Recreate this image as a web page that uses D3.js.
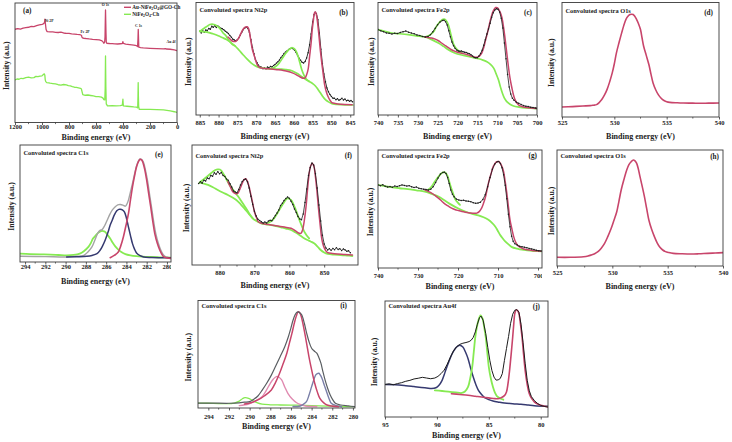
<!DOCTYPE html>
<html><head><meta charset="utf-8">
<script src="https://cdn.jsdelivr.net/npm/d3@7"></script>
<style>
html,body{margin:0;padding:0;background:#fff;}
svg{display:block;}
text{font-family:"Liberation Serif","Times New Roman",serif;font-weight:bold;fill:#222;}
</style></head><body>
<svg id="c" width="732" height="442"></svg>
<script>
// ---------------- DATA ----------------
// (a) survey spectra: [binding energy eV, intensity %]
const aTicks = [1200,1000,800,600,400,200,0];
const aRed = [[1200,78.0],[1180,78.6],[1160,78.2],[1140,79.0],[1120,79.4],[1100,79.7],[1080,80.4],[1060,80.2],[1040,81.0],[1020,81.6],[1000,82.2],[990,82.6],[984,83.2],[980,84.6],[978,86.4],[976,84.0],[973,81.0],[970,78.0],[965,76.6],[960,76.0],[940,75.8],[920,75.9],[900,75.5],[880,75.3],[860,75.6],[840,74.9],[825,74.7],[800,74.6],[780,74.2],[760,74.0],[740,73.7],[720,73.5],[708,73.0],[704,71.5],[700,70.8],[690,70.5],[670,70.2],[650,69.9],[625,69.6],[600,69.4],[575,69.1],[560,68.6],[550,67.8],[542,66.3],[536,67.2],[533,72.0],[531,85.8],[529.5,94.2],[528,86.0],[526,75.0],[524,67.4],[520,66.3],[500,66.1],[480,66.0],[460,65.8],[440,65.7],[420,65.9],[405,66.0],[401,67.6],[397,66.2],[380,65.6],[350,65.2],[320,64.7],[300,64.3],[292,63.6],[289,70.0],[287,78.0],[285,70.5],[283,63.0],[270,62.7],[250,62.4],[200,62.1],[150,61.8],[100,61.6],[86,61.9],[80,61.5],[50,61.3],[20,60.8],[0,60.2]];
const aGreen = [[1200,35.7],[1185,36.4],[1170,36.2],[1155,37.0],[1140,36.8],[1120,37.6],[1100,37.9],[1080,37.4],[1060,37.6],[1045,38.6],[1030,38.4],[1015,38.8],[1000,39.0],[990,40.1],[983,40.7],[979,39.6],[976,35.7],[972,34.2],[965,33.4],[950,33.2],[940,32.9],[920,32.6],[900,32.3],[880,31.6],[860,31.2],[840,31.8],[820,31.5],[805,30.8],[790,30.6],[775,30.0],[760,29.5],[745,29.4],[730,29.0],[715,28.6],[708,28.0],[703,25.6],[698,23.4],[680,22.8],[660,23.0],[640,22.6],[620,22.2],[600,21.7],[580,21.6],[560,21.2],[548,20.4],[542,19.2],[535,18.9],[532,28.0],[530.5,45.0],[529.5,55.7],[528.5,45.0],[527,30.1],[524,15.6],[515,13.9],[480,14.0],[450,13.9],[420,14.1],[405,14.5],[402,18.0],[400.5,19.5],[399,16.0],[397,13.9],[370,13.6],[350,13.4],[320,13.0],[300,12.8],[291,12.3],[289,22.0],[287.5,33.4],[286,22.0],[284,13.4],[280,11.1],[250,11.0],[200,10.9],[150,10.8],[100,10.6],[50,9.7],[20,9.0],[0,8.4]];
const aPeakLabels = [["Ni 2P",948,85.5],["Fe 2P",681,76],["O 1s",530,99],["C 1s",285,81],["Au 4f",44,67.5]];

// (b) Ni2p
const bTicks = [885,880,875,870,865,860,855,850,845];
const bBlack = [[885.0,74.4],[884.6,73.0],[884.2,74.8],[883.8,73.6],[883.4,75.6],[883.0,75.0],[882.6,77.0],[882.2,76.2],[881.8,78.8],[881.4,78.0],[881.0,79.4],[880.6,77.8],[880.2,79.2],[879.8,78.0],[879.4,77.2],[879.0,76.6],[878.6,75.8],[878.2,74.4],[877.8,73.6],[877.4,72.4],[877.0,70.6],[876.6,69.2],[876.2,67.4],[875.8,66.6],[875.4,66.0],[875.0,67.0],[874.6,68.6],[874.2,71.2],[873.8,73.8],[873.4,76.0],[873.0,77.4],[872.6,78.2],[872.2,77.0],[871.8,73.4],[871.4,66.8],[871.0,60.0],[870.6,54.4],[870.2,49.4],[869.8,46.6],[869.4,44.2],[869.0,43.0],[868.6,42.4],[868.2,41.2],[867.8,42.0],[867.4,41.0],[867.0,42.6],[866.6,42.0],[866.2,43.2],[865.8,42.6],[865.4,44.0],[865.0,44.8],[864.6,46.2],[864.2,47.4],[863.8,49.0],[863.4,51.2],[863.0,52.6],[862.6,54.6],[862.2,56.0],[861.8,57.0],[861.4,58.2],[861.0,59.0],[860.6,59.6],[860.2,59.0],[859.8,57.6],[859.4,55.6],[859.0,53.0],[858.6,50.4],[858.2,48.6],[857.8,46.8],[857.4,46.2],[857.0,47.6],[856.6,50.6],[856.2,55.4],[855.8,62.4],[855.4,72.0],[855.0,82.6],[854.6,89.4],[854.3,91.4],[854.0,90.2],[853.6,84.6],[853.2,73.0],[852.8,58.4],[852.4,45.6],[852.0,36.4],[851.6,29.6],[851.2,24.0],[850.8,20.6],[850.4,18.2],[850.0,16.4],[849.6,15.0],[849.2,14.8],[848.8,13.6],[848.4,14.4],[848.0,13.2],[847.6,13.8],[847.2,14.8],[846.8,13.4],[846.4,14.2],[846.0,12.6],[845.6,13.2],[845.2,12.2],[844.8,12.8],[844.4,11.8]];
const bRed = [[877.5,69.3],[876.8,67.0],[876.2,65.5],[875.5,65.4],[874.8,67.6],[874.3,70.8],[873.8,74.4],[873.3,77.0],[872.8,78.3],[872.4,78.4],[872.0,76.6],[871.5,67.6],[871.0,58.0],[870.6,53.6],[870.1,48.0],[869.7,44.6],[869.2,42.6],[868.6,41.7],[867.5,41.3],[866.9,41.1],[865.5,40.6],[864.2,40.2],[862.8,39.6],[861.5,38.7],[860.4,37.4],[859.3,35.7],[858.4,34.0],[857.6,32.7],[857.0,33.0],[856.6,35.7],[856.2,40.5],[855.8,52.1],[855.4,64.0],[855.1,75.9],[854.8,84.0],[854.5,90.8],[854.25,91.5],[854.0,89.3],[853.7,82.5],[853.3,69.9],[852.9,56.0],[852.5,44.6],[852.1,34.0],[851.8,26.8],[851.3,20.0],[850.9,16.4],[850.4,13.2],[849.9,11.0],[849.0,10.2],[848.3,9.8],[846.5,9.4],[844.5,9.2]];
const bGreenBg = [[885.0,74.4],[883.9,74.0],[882.8,73.5],[881.5,72.2],[880.1,70.5],[879.0,68.8],[877.9,67.0],[876.8,64.6],[875.7,61.6],[874.6,57.8],[873.5,53.6],[872.4,49.6],[871.3,46.1],[870.4,44.0],[869.5,42.6],[868.2,41.6],[866.9,41.1],[865.0,40.9],[863.3,40.8],[862.0,40.3],[860.7,39.6],[859.6,37.8],[858.5,35.7],[857.6,33.4],[856.7,31.3],[855.8,29.6],[854.9,27.7],[854.2,25.6],[853.6,22.9],[852.9,19.6],[852.3,16.4],[851.6,13.6],[850.9,11.9],[850.2,10.6],[849.6,9.8],[848.5,9.4],[847.4,9.2],[845.8,9.0],[844.3,8.9]];
const bGreenSat1 = [[885.0,74.4],[884.4,75.8],[883.7,77.4],[883.0,79.0],[882.3,80.4],[881.7,80.8],[881.2,80.4],[880.6,79.6],[880.1,78.3],[879.4,75.8],[878.8,72.9],[878.1,70.6],[877.5,67.4],[876.8,64.4],[876.2,62.4],[875.7,61.6]];
const bGreenSat2 = [[866.5,41.2],[865.5,41.8],[864.6,43.6],[863.8,46.6],[863.0,50.6],[862.2,54.6],[861.5,57.4],[860.9,59.2],[860.4,59.8],[859.9,59.0],[859.4,56.8],[858.9,52.6],[858.4,46.6],[857.9,40.4],[857.3,35.4],[856.7,32.0],[856.0,30.0]];

// (c) Fe2p
const cTicks = [740,735,730,725,720,715,710,705,700];
const cBlack = [[740,75.9],[739.3,74.8],[738.6,74.0],[737.9,73.0],[737.2,72.6],[736.5,72.0],[735.8,72.6],[735.1,72.4],[734.4,73.4],[733.7,74.0],[733.0,74.6],[732.3,73.6],[731.6,72.8],[730.9,72.2],[730.2,71.2],[729.5,70.6],[728.8,69.8],[728.1,69.4],[727.4,69.8],[726.8,71.4],[726.2,74.0],[725.6,77.2],[725.0,80.2],[724.4,82.6],[723.8,84.0],[723.4,84.2],[723.0,83.0],[722.6,80.0],[722.2,75.0],[721.8,69.6],[721.4,64.8],[721.0,61.6],[720.6,59.2],[720.2,57.8],[719.8,57.0],[719.4,56.6],[719.0,56.8],[718.6,56.2],[718.2,55.8],[717.8,55.6],[717.4,54.8],[717.0,54.4],[716.6,53.6],[716.2,52.4],[715.8,51.2],[715.4,50.8],[715.0,51.0],[714.6,52.4],[714.2,54.6],[713.8,57.6],[713.4,62.0],[713.0,67.0],[712.6,72.0],[712.2,76.4],[711.8,81.6],[711.4,87.0],[711.0,91.0],[710.6,93.4],[710.2,94.4],[709.8,94.0],[709.4,91.6],[709.0,86.0],[708.6,77.4],[708.2,64.0],[707.8,50.0],[707.4,36.0],[707.0,25.0],[706.6,18.6],[706.2,15.0],[705.8,13.2],[705.2,11.4],[704.6,10.4],[704.0,9.4],[703.4,8.4],[702.8,7.8],[702.2,7.6],[701.6,7.0],[701.0,6.6],[700.4,6.2],[700.0,6.0]];
const cRed = [[728.2,69.3],[727.4,68.8],[726.5,68.4],[725.6,67.4],[724.8,66.0],[724.0,64.0],[723.2,62.0],[722.3,59.8],[721.5,58.0],[720.6,56.6],[719.8,55.6],[718.9,54.8],[718.1,54.2],[717.2,53.2],[716.4,52.2],[715.8,51.6],[715.2,51.4],[714.6,52.2],[713.9,55.1],[713.4,60.0],[712.9,67.0],[712.4,74.0],[712.0,80.4],[711.6,86.0],[711.2,90.8],[710.8,93.8],[710.4,95.5],[710.0,95.4],[709.7,94.3],[709.2,90.8],[708.8,86.3],[708.4,77.6],[708.0,67.0],[707.6,55.0],[707.2,43.2],[706.8,33.0],[706.3,23.8],[705.9,17.6],[705.5,13.4],[705.0,10.4],[704.5,8.6],[703.8,7.6],[703.0,6.8],[701.5,6.2],[700.0,5.7]];
const cGreenBg = [[740,75.9],[738.3,74.4],[736.6,72.9],[734.5,72.2],[732.4,71.4],[730.3,70.4],[728.2,69.3],[726.5,67.0],[724.8,64.0],[723.5,61.0],[722.3,58.0],[721.0,55.6],[719.8,54.0],[718.5,53.0],[717.3,52.0],[716.0,51.0],[714.7,50.0],[713.6,48.8],[712.6,47.4],[711.7,45.0],[710.9,41.7],[710.3,36.8],[709.7,31.3],[709.2,25.0],[708.7,19.3],[708.2,15.0],[707.6,11.9],[706.8,9.6],[705.9,8.0],[704.5,7.0],[703.0,6.3],[701.5,6.0],[700.0,5.7]];
const cGreenPk = [[728.2,69.3],[727.3,70.4],[726.5,72.3],[725.9,74.6],[725.5,77.4],[725.1,79.8],[724.7,81.8],[724.2,83.6],[723.8,84.8],[723.4,85.2],[723.0,84.6],[722.6,82.6],[722.2,79.2],[721.8,73.5],[721.4,68.0],[721.1,64.0],[720.6,60.4],[720.2,58.6],[719.5,56.4],[718.9,55.2]];

// (d) O1s
const dTicks = [525,530,535,540];
const dRed = [[525,8.7],[526,9.1],[527,9.6],[527.7,9.9],[528.0,10.3],[528.3,10.8],[528.55,12.6],[528.8,15.2],[529.05,19.0],[529.3,23.9],[529.55,30.6],[529.8,38.5],[530.0,46.5],[530.2,56.0],[530.45,65.0],[530.7,73.5],[530.9,79.8],[531.1,85.1],[531.3,88.0],[531.5,89.5],[531.65,89.8],[531.8,89.5],[531.95,88.0],[532.1,85.7],[532.3,81.6],[532.5,76.4],[532.65,69.0],[532.8,61.8],[533.05,53.8],[533.3,45.8],[533.5,37.4],[533.7,29.7],[533.95,23.8],[534.2,19.5],[534.45,16.6],[534.7,14.6],[535.0,13.4],[535.3,12.8],[536.0,12.4],[536.6,12.2],[537.5,12.1],[538.2,12.0],[539,12.1],[540,12.2]];

// (e) C1s
const eTicks = [294,292,290,288,286,284,282,280];
const eGreen = [[294.5,7.1],[293.5,6.8],[292.5,6.6],[291.5,6.3],[290.7,6.0],[289.9,5.7],[289.2,6.0],[288.6,7.1],[288.2,9.2],[287.75,12.9],[287.5,16.4],[287.3,20.0],[287.0,23.0],[286.8,24.9],[286.6,26.0],[286.4,26.6],[286.2,26.2],[286.1,25.7],[285.9,23.6],[285.6,20.0],[285.35,16.4],[285.1,13.4],[284.8,10.6],[284.5,8.6],[284.1,6.8],[283.6,5.7],[283.0,5.0],[282.4,4.6],[281.7,4.3],[280.7,4.0],[279.6,3.7]];
const eNavy = [[289.9,4.3],[288.9,4.5],[287.9,4.9],[287.4,5.6],[286.9,7.1],[286.6,10.0],[286.35,13.8],[286.1,18.6],[285.8,25.8],[285.6,31.6],[285.4,35.7],[285.2,40.0],[284.95,43.7],[284.75,45.0],[284.6,45.1],[284.4,44.6],[284.2,42.9],[284.0,37.6],[283.8,30.0],[283.6,22.6],[283.4,15.7],[283.2,11.0],[283.0,7.7],[282.7,5.6],[282.3,4.3],[281.5,3.9],[279.6,3.7]];
const eRed = [[285.6,3.7],[285.2,5.6],[284.8,8.6],[284.55,14.0],[284.3,21.4],[284.05,31.0],[283.8,41.4],[283.6,53.0],[283.4,64.3],[283.2,73.4],[283.0,81.4],[282.8,86.0],[282.65,87.7],[282.5,87.2],[282.4,85.7],[282.2,79.4],[282.0,70.0],[281.8,58.4],[281.6,47.1],[281.4,35.0],[281.2,24.3],[280.95,16.0],[280.7,10.0],[280.5,6.6],[280.3,4.3],[280.0,3.5],[279.6,3.1]];
const eGray = [[294.5,4.9],[292,4.6],[289.9,4.3],[289.0,4.9],[288.2,5.7],[287.8,8.6],[287.4,12.9],[287.1,19.0],[286.85,24.3],[286.6,27.0],[286.4,27.7],[286.15,31.0],[285.9,35.7],[285.65,40.5],[285.4,44.3],[285.15,46.9],[284.95,48.3],[284.75,49.0],[284.6,49.1],[284.35,48.6],[284.1,47.7],[283.95,49.6],[283.8,52.9],[283.6,60.0],[283.4,67.1],[283.2,75.0],[283.0,82.0],[282.8,86.6],[282.65,88.0],[282.45,87.2],[282.3,84.9],[282.1,77.6],[281.9,68.6],[281.7,57.0],[281.5,45.7],[281.3,34.0],[281.1,24.3],[280.85,16.0],[280.6,10.0],[280.4,6.8],[280.2,4.9],[279.9,4.0],[279.6,3.7]];

// (f) Ni2p
const fTicks = [880,870,860,850];
const fBlack = [[886.0,68.0],[885.5,69.4],[885.0,68.2],[884.5,70.6],[884.0,70.0],[883.5,72.6],[883.0,71.8],[882.5,74.6],[882.0,74.0],[881.5,76.8],[881.0,75.6],[880.5,77.8],[880.0,76.0],[879.5,77.0],[879.0,74.6],[878.5,73.8],[878.0,71.6],[877.5,70.6],[877.0,67.8],[876.5,65.0],[876.0,61.6],[875.5,60.8],[875.0,60.2],[874.5,63.0],[874.0,66.6],[873.5,69.6],[873.0,71.0],[872.5,71.6],[872.0,69.4],[871.5,64.2],[871.0,57.2],[870.5,50.6],[870.0,44.8],[869.5,40.8],[869.0,38.2],[868.5,37.0],[868.0,36.0],[867.5,35.0],[867.0,35.8],[866.5,35.0],[866.0,36.6],[865.5,37.2],[865.0,36.8],[864.5,39.0],[864.0,41.2],[863.5,43.4],[863.0,45.8],[862.5,49.6],[862.0,51.4],[861.5,53.8],[861.0,55.4],[860.5,56.6],[860.0,55.6],[859.5,53.2],[859.0,50.4],[858.5,46.6],[858.0,43.8],[857.5,40.4],[857.0,38.4],[856.5,37.8],[856.0,42.6],[855.5,52.0],[855.0,63.4],[854.5,74.6],[854.0,81.2],[853.5,85.0],[853.0,83.4],[852.5,76.0],[852.0,64.2],[851.5,50.0],[851.0,36.6],[850.5,24.8],[850.0,17.6],[849.5,14.2],[849.0,12.6],[848.5,13.6],[848.0,12.2],[847.5,13.8],[847.0,12.8],[846.5,14.4],[846.0,13.0],[845.5,13.6],[845.0,12.0],[844.5,13.4],[844.0,12.6],[843.5,11.4],[843.0,11.8],[842.5,10.2]];
const fRed = [[877.6,69.4],[876.9,65.0],[876.2,61.1],[875.5,59.6],[874.8,59.7],[874.3,62.4],[873.8,65.8],[873.3,69.4],[872.9,71.4],[872.5,71.8],[872.1,70.3],[871.6,66.0],[871.1,59.7],[870.5,51.6],[870.0,44.4],[869.4,39.4],[868.9,36.1],[868.0,34.8],[867.1,34.2],[865.2,33.4],[863.3,32.5],[861.4,31.6],[859.5,30.6],[858.3,28.6],[857.1,26.4],[856.6,26.6],[856.2,29.2],[855.7,37.0],[855.2,48.6],[854.8,62.0],[854.3,76.4],[853.9,82.4],[853.5,84.7],[853.2,84.0],[852.9,81.9],[852.5,73.4],[852.1,62.5],[851.6,46.4],[851.1,31.9],[850.7,22.0],[850.2,15.8],[849.6,12.2],[849.0,10.3],[847.6,9.6],[846.2,9.2],[844.0,8.8],[841.9,8.3]];
const fGreenBg = [[885.7,68.6],[884.5,67.8],[883.3,66.7],[881.9,64.8],[880.5,62.5],[879.1,60.4],[877.6,58.3],[876.4,56.4],[875.2,54.2],[874.0,50.8],[872.9,47.2],[871.7,43.0],[870.5,38.9],[869.3,36.4],[868.1,34.7],[866.7,33.9],[865.2,33.3],[863.8,32.4],[862.4,31.4],[861.0,30.4],[859.5,29.2],[858.3,27.3],[857.1,25.0],[856.0,22.8],[854.8,20.8],[853.9,19.6],[852.9,18.1],[851.9,15.4],[851.0,12.5],[850.0,10.4],[849.0,9.2],[847.1,8.6],[845.2,8.3],[843.5,7.9],[841.9,7.5]];
const fGreenSat1 = [[885.7,68.6],[884.8,70.8],[883.8,73.1],[882.8,75.6],[881.9,77.8],[881.2,79.2],[880.5,79.7],[879.9,79.6],[879.5,78.6],[879.0,76.4],[878.4,73.6],[877.8,70.2],[877.1,66.7],[876.4,63.8],[875.7,61.1],[875.0,58.4],[874.3,55.6],[873.4,51.6],[872.4,47.2],[871.5,43.0],[870.5,38.9]];
const fGreenSat2 = [[867.1,34.2],[866.0,35.2],[864.8,37.5],[863.8,41.4],[862.9,45.8],[862.1,49.6],[861.4,52.8],[860.9,54.8],[860.5,55.6],[860.0,55.2],[859.5,54.2],[858.9,51.2],[858.3,47.2],[857.7,42.4],[857.1,37.5],[856.4,32.4],[855.7,27.8],[855.0,24.6],[854.3,22.2]];

// (g) Fe2p
const gTicks = [740,730,720,710,700];
const gBlack = [[740,70.4],[739.4,69.8],[738.8,70.6],[738.2,69.2],[737.6,68.6],[737.0,69.0],[736.4,68.4],[735.8,69.4],[735.2,69.0],[734.6,69.8],[734.0,70.4],[733.4,70.0],[732.8,69.4],[732.2,69.8],[731.6,68.8],[731.0,68.2],[730.4,68.6],[729.8,67.6],[729.2,67.2],[728.6,66.8],[728.0,66.6],[727.4,66.0],[726.8,66.8],[726.2,68.8],[725.6,72.4],[725.0,76.2],[724.4,79.6],[723.8,81.0],[723.4,81.2],[723.0,80.0],[722.6,76.6],[722.2,71.6],[721.8,66.0],[721.4,62.6],[721.0,60.4],[720.4,58.4],[719.8,57.6],[719.2,57.2],[718.6,57.4],[718.0,56.8],[717.4,56.6],[716.8,56.2],[716.2,55.4],[715.6,54.8],[715.0,55.0],[714.4,55.8],[713.8,58.0],[713.2,62.0],[712.6,68.8],[712.0,76.6],[711.4,83.6],[710.8,88.2],[710.2,90.0],[709.8,90.2],[709.4,88.6],[709.0,85.0],[708.6,79.0],[708.2,70.2],[707.8,58.6],[707.4,45.6],[707.0,35.0],[706.6,27.0],[706.2,22.6],[705.8,20.6],[705.2,19.4],[704.6,18.4],[704.0,18.0],[703.4,17.6],[702.8,17.2],[702.2,16.6],[701.6,16.2],[701.0,15.6],[700.4,15.0],[699.8,14.6],[699.2,14.4]];
const gRed = [[728.3,66.2],[727.4,64.8],[726.6,63.4],[725.7,61.4],[724.9,59.2],[724.1,56.8],[723.3,54.4],[722.4,52.4],[721.6,50.7],[720.8,49.6],[719.9,48.7],[719.0,47.9],[718.2,47.3],[717.4,46.8],[716.6,46.5],[715.9,46.3],[715.3,46.5],[714.7,47.8],[714.1,50.7],[713.6,55.0],[713.1,60.6],[712.7,66.8],[712.3,73.2],[711.7,80.4],[711.2,85.9],[710.7,88.8],[710.3,90.1],[709.9,90.2],[709.5,89.3],[709.0,86.0],[708.6,81.7],[708.2,73.2],[707.8,63.4],[707.4,52.0],[707.0,40.8],[706.5,32.6],[706.1,26.8],[705.6,22.0],[705.0,18.9],[704.3,17.2],[703.6,16.1],[702.6,15.4],[701.5,14.9],[700.4,14.5],[699.3,14.1]];
const gGreenBg = [[740,70.4],[738.3,69.4],[736.7,68.5],[734.6,67.6],[732.5,66.8],[730.4,65.8],[728.3,64.8],[726.6,62.8],[724.9,60.6],[723.3,57.2],[721.6,53.5],[719.9,50.4],[718.2,47.9],[716.6,46.0],[714.9,44.6],[713.6,43.0],[712.4,40.8],[711.5,38.2],[710.7,35.2],[710.1,31.8],[709.5,28.2],[708.8,25.0],[708.2,22.5],[707.3,19.8],[706.5,17.7],[705.2,16.4],[704.0,15.5],[702.7,15.0],[701.5,14.6],[700.2,14.3],[699.0,14.1]];
const gGreenPk = [[727.9,65.6],[727.2,67.0],[726.6,69.0],[726.1,71.6],[725.6,74.1],[725.0,76.8],[724.5,78.9],[724.1,80.4],[723.7,81.1],[723.3,81.0],[723.0,80.3],[722.6,77.8],[722.3,74.6],[721.9,69.8],[721.4,64.8],[721.0,61.0],[720.6,57.7],[720.0,55.2],[719.5,53.5]];

// (h) O1s
const hTicks = [525,530,535,540];
const hRed = [[525,7.5],[526.2,7.5],[527.4,8.0],[527.8,8.6],[528.1,9.5],[528.4,10.6],[528.7,12.4],[529.0,15.4],[529.3,19.5],[529.6,25.6],[529.9,32.5],[530.15,39.5],[530.4,46.8],[530.6,56.0],[530.8,65.5],[531.05,74.6],[531.3,82.8],[531.5,87.4],[531.7,89.9],[531.9,91.4],[532.05,90.6],[532.2,88.5],[532.35,83.6],[532.5,77.0],[532.7,68.6],[532.9,59.8],[533.1,49.6],[533.3,39.7],[533.55,31.6],[533.8,25.3],[534.05,20.0],[534.3,16.1],[534.55,13.8],[534.8,12.4],[535.1,11.6],[535.5,10.9],[536.3,10.5],[537.1,10.3],[537.8,10.5],[538.6,10.9],[539.3,11.2],[540.0,11.5]];

// (i) C1s
const iTicks = [294,292,290,288,286,284,282,280];
const iEnv = [[295,4.6],[293.5,4.5],[292,4.4],[291,4.8],[290.5,5.4],[290.0,5.9],[289.6,8.2],[289.2,11.2],[288.8,16.4],[288.35,23.0],[287.9,30.6],[287.5,38.5],[287.05,47.6],[286.6,57.0],[286.26,66.0],[286.0,74.6],[285.8,81.6],[285.6,86.7],[285.45,88.9],[285.3,89.5],[285.15,88.6],[284.96,86.7],[284.7,78.6],[284.48,69.6],[284.25,61.6],[284.0,55.6],[283.75,53.0],[283.5,51.0],[283.3,47.0],[283.1,41.7],[282.9,33.6],[282.7,26.1],[282.45,18.4],[282.2,12.1],[281.95,7.6],[281.7,4.4],[281.2,2.8],[280.45,1.9],[279.8,1.2]];
const iRed = [[290.5,3.8],[289.8,5.2],[289.2,7.5],[288.55,11.4],[287.9,16.8],[287.5,23.6],[287.1,32.3],[286.75,41.4],[286.4,51.0],[286.15,60.4],[285.9,69.6],[285.7,78.0],[285.5,85.0],[285.3,89.5],[285.15,88.6],[285.0,85.0],[284.8,76.4],[284.6,66.4],[284.4,55.4],[284.2,44.7],[283.95,33.4],[283.7,23.0],[283.45,15.0],[283.2,9.0],[282.85,5.0],[282.5,2.8],[281.4,1.2]];
const iPink = [[291.0,2.2],[290.1,3.7],[289.45,6.6],[288.8,10.5],[288.4,16.2],[288.0,23.0],[287.7,27.0],[287.4,29.2],[287.15,28.6],[286.9,26.1],[286.6,19.6],[286.3,13.7],[285.9,8.6],[285.45,4.9],[285.0,3.0],[284.6,1.9],[283.5,1.4]];
const iNavy = [[285.8,1.4],[285.1,1.9],[284.8,3.4],[284.5,5.9],[284.25,12.0],[284.0,19.9],[283.8,25.8],[283.6,30.8],[283.45,32.0],[283.3,32.3],[283.15,30.6],[283.0,27.7],[282.75,20.6],[282.5,13.7],[282.3,8.4],[282.1,4.4],[281.6,2.2],[281.1,1.2]];
const iGreen = [[295,4.6],[293.5,4.3],[292.2,4.0],[291.5,4.6],[291.0,6.4],[290.7,8.6],[290.45,9.6],[290.1,9.0],[289.7,7.0],[289.3,5.0],[288.8,3.6],[288.0,3.0],[287.0,2.8],[285.5,2.6],[284.0,2.2],[282.5,1.8],[281.0,1.4],[279.8,1.2]];

// (j) Au4f
const jTicks = [95,90,85,80];
const jBlack = [[95.0,28.0],[94.6,28.6],[94.2,27.8],[93.8,28.8],[93.4,29.6],[93.0,30.8],[92.6,31.6],[92.2,32.8],[91.8,33.4],[91.4,34.2],[91.0,33.6],[90.6,33.0],[90.2,33.6],[89.9,35.0],[89.6,37.4],[89.3,40.4],[89.0,45.6],[88.7,51.6],[88.4,57.0],[88.1,60.6],[87.8,62.6],[87.5,63.6],[87.2,64.2],[86.9,65.0],[86.7,66.2],[86.5,68.6],[86.3,73.4],[86.1,80.0],[85.9,85.6],[85.75,87.0],[85.55,83.4],[85.3,72.0],[85.1,60.0],[84.9,48.6],[84.7,40.0],[84.5,34.4],[84.3,31.8],[84.1,32.0],[83.9,33.2],[83.7,37.4],[83.5,48.6],[83.3,59.0],[83.1,69.4],[82.9,80.8],[82.7,88.6],[82.5,92.0],[82.3,92.6],[82.1,90.4],[81.9,80.0],[81.7,64.0],[81.5,46.4],[81.3,31.6],[81.1,22.6],[80.9,17.6],[80.6,14.0],[80.3,11.6],[80.0,10.0],[79.6,9.0],[79.3,8.6]];
const jNavy = [[95.0,28.0],[94.0,27.8],[93.0,27.0],[92.2,26.2],[91.5,25.5],[91.0,25.0],[90.5,24.5],[90.1,25.2],[89.8,27.4],[89.5,31.6],[89.3,36.4],[89.1,41.7],[88.85,47.6],[88.6,53.2],[88.35,57.4],[88.1,60.3],[87.8,61.8],[87.5,60.3],[87.25,56.0],[87.0,50.3],[86.75,42.0],[86.5,34.5],[86.25,28.0],[86.0,23.0],[85.7,19.4],[85.4,16.7],[85.0,15.0],[84.6,13.8],[84.0,12.8],[83.5,12.1],[82.7,11.4],[81.9,10.9],[81.2,10.3],[80.6,9.8],[79.3,9.2]];
const jGreen = [[90.2,23.0],[89.5,22.4],[88.9,21.8],[88.2,21.2],[87.6,20.7],[87.3,22.0],[87.0,25.9],[86.8,33.0],[86.6,43.1],[86.45,56.0],[86.3,69.0],[86.15,77.6],[86.0,83.3],[85.8,87.6],[85.6,84.8],[85.45,77.6],[85.3,69.0],[85.15,56.0],[85.0,43.1],[84.8,33.0],[84.6,25.9],[84.4,20.8],[84.2,17.8],[83.9,16.0],[83.6,14.9]];
const jRed = [[88.6,20.1],[87.8,19.4],[87.0,18.7],[86.3,17.9],[85.7,17.2],[85.0,16.5],[84.4,15.8],[84.0,16.0],[83.8,16.7],[83.5,18.4],[83.3,21.6],[83.15,29.0],[83.0,40.2],[82.85,54.0],[82.7,69.0],[82.6,80.0],[82.5,89.1],[82.35,92.5],[82.2,91.4],[82.1,89.1],[81.95,80.0],[81.8,69.0],[81.65,54.0],[81.5,40.2],[81.3,28.0],[81.1,20.1],[80.85,15.6],[80.6,12.9],[80.3,11.2],[80.0,10.1],[79.6,9.2],[79.3,8.6]];

// ---------------- STYLE ----------------
const RED = "#c8456b", GREEN = "#86ea52", BLACK = "#1c1c1c", NAVY = "#363a70",
      GRAY = "#a4a4a4", DARK = "#5a5e62", PINK = "#e08ab0";
const smooth = d3.curveCatmullRom.alpha(0.5);

const svg = d3.select("#c");
const defs = svg.append("defs");

function panel(p) {
  const x = d3.scaleLinear().domain(p.domain).range([p.x0, p.x1]);
  const y = d3.scaleLinear().domain([0, 100]).range([p.y1, p.y0]);
  const g = svg.append("g");
  const cid = "clip" + p.id;
  defs.append("clipPath").attr("id", cid).append("rect")
    .attr("x", p.x0).attr("y", p.y0).attr("width", p.x1 - p.x0).attr("height", p.y1 - p.y0);
  const plot = g.append("g").attr("clip-path", `url(#${cid})`);
  p.series.forEach(s => {
    const line = d3.line().x(d => x(d[0])).y(d => y(d[1])).curve(s.curve || smooth);
    plot.append("path").datum(s.data).attr("d", line).attr("fill", "none")
      .attr("stroke", s.color).attr("stroke-width", s.w || 1.6)
      .attr("stroke-linejoin", "round").attr("stroke-linecap", "round");
    if (s.dots) {
      plot.selectAll(null).data(s.data).join("circle")
        .attr("cx", d => x(d[0])).attr("cy", d => y(d[1])).attr("r", 0.75).attr("fill", s.color);
    }
  });
  g.append("rect").attr("x", p.x0).attr("y", p.y0).attr("width", p.x1 - p.x0).attr("height", p.y1 - p.y0)
    .attr("fill", "none").attr("stroke", "#3a3a3a").attr("stroke-width", 0.9);

  const axG = g.append("g").attr("transform", `translate(0,${p.y1})`);
  if (p.labelClip) {
    defs.append("clipPath").attr("id", cid + "ax").append("rect")
      .attr("x", p.x0 - 20).attr("y", -2).attr("width", p.labelClip - p.x0 + 20).attr("height", 20);
    axG.attr("clip-path", `url(#${cid}ax)`);
  }
  axG.call(d3.axisBottom(x).tickValues(p.ticks).tickSize(2.5).tickFormat(d => String(d)));
  axG.select(".domain").remove();
  axG.selectAll(".tick line").attr("stroke", "#333").attr("stroke-width", 0.8);
  axG.selectAll(".tick text").attr("y", p.labDy).attr("dy", 0).attr("font-size", 6.5)
    .attr("font-family", '"Liberation Serif", serif').attr("font-weight", "bold").attr("fill", "#222");
  const minors = d3.pairs(p.ticks).map(([a, b]) => (a + b) / 2);
  axG.selectAll(".minor").data(minors).join("line").attr("class", "minor")
    .attr("x1", d => x(d)).attr("x2", d => x(d)).attr("y1", 0).attr("y2", 1.6)
    .attr("stroke", "#333").attr("stroke-width", 0.7);

  g.append("text").attr("x", (p.x0 + p.x1) / 2).attr("y", p.y1 + p.titleDy)
    .attr("text-anchor", "middle").attr("font-size", 8).text("Binding energy (eV)");
  g.append("text").attr("transform", `translate(${p.ylx},${(p.y0 + p.y1) / 2 + 3}) rotate(-90)`)
    .attr("text-anchor", "middle").attr("dy", "0.35em").attr("font-size", 7.8).text("Intensity (a.u.)");
  if (p.name) g.append("text").attr("x", p.x0 + 3.5).attr("y", p.y0 + p.nameDy)
    .attr("font-size", 6.4).text(p.name);
  g.append("text").attr("x", p.letterAnchor === "start" ? p.x0 + 8 : p.x1 - p.letterDx)
    .attr("y", p.y0 + p.letterDy).attr("text-anchor", p.letterAnchor || "end")
    .attr("font-size", 7.2).text(p.letter);
  return { g, x, y };
}

// (a)
const A = panel({ id: "a", domain: [1200, 0], x0: 15, x1: 177, y0: 3, y1: 122.5, ticks: aTicks,
  labDy: 6.8, titleDy: 17.5, ylx: 6, letter: "(a)", letterAnchor: "start", letterDy: 9.5,
  series: [
    { data: aGreen, color: GREEN, w: 1.3, curve: d3.curveLinear },
    { data: aRed, color: RED, w: 1.3, curve: d3.curveLinear }
  ] });
aPeakLabels.forEach(([t, ev, v]) => {
  A.g.append("text").attr("x", A.x(ev)).attr("y", A.y(v) + 1.5).attr("text-anchor", "middle")
    .attr("font-size", 3.8).text(t);
});
// legend (a)
[[RED, 7.3, ["Au-NiFe", "2", "O", "4", "@GO-Ch"]], [GREEN, 14.3, ["NiFe", "2", "O", "4", "-Ch"]]].forEach(([col, yy, parts]) => {
  A.g.append("line").attr("x1", 124).attr("x2", 131).attr("y1", yy).attr("y2", yy)
    .attr("stroke", col).attr("stroke-width", 1.4);
  const t = A.g.append("text").attr("x", 132.3).attr("y", yy + 1.8).attr("font-size", 5.2);
  parts.forEach((s, i) => {
    const ts = t.append("tspan").text(s);
    if (i % 2 === 1) ts.attr("font-size", 3.8).attr("dy", 1.2);
    else if (i > 0) ts.attr("dy", -1.2);
  });
});

// (b)
panel({ id: "b", domain: [886, 844], x0: 196, x1: 354, y0: 2.5, y1: 115, ticks: bTicks,
  labDy: 9.5, titleDy: 24, ylx: 188, name: "Convoluted spectra Ni2p", nameDy: 9.5,
  letter: "(b)", letterDx: 6, letterDy: 12,
  series: [
    { data: bBlack, color: BLACK, w: 0.9, curve: d3.curveLinear, dots: true },
    { data: bGreenBg, color: GREEN, w: 1.7 },
    { data: bGreenSat1, color: GREEN, w: 1.7 },
    { data: bGreenSat2, color: GREEN, w: 1.7 },
    { data: bRed, color: RED, w: 1.5 }
  ] });

// (c)
panel({ id: "c", domain: [740, 700], x0: 378, x1: 537, y0: 2.5, y1: 115, ticks: cTicks,
  labDy: 9.5, titleDy: 24, ylx: 371, name: "Convoluted spectra Fe2p", nameDy: 9.5,
  letter: "(c)", letterDx: 5, letterDy: 12,
  series: [
    { data: cGreenBg, color: GREEN, w: 1.7 },
    { data: cGreenPk, color: GREEN, w: 1.7 },
    { data: cRed, color: RED, w: 1.5 },
    { data: cBlack, color: BLACK, w: 0.8, curve: d3.curveLinear, dots: true }
  ] });

// (d)
panel({ id: "d", domain: [525, 540], x0: 562, x1: 719, y0: 2.5, y1: 117, ticks: dTicks,
  labDy: 7.5, titleDy: 22, ylx: 551, name: "Convoluted spectra O1s", nameDy: 10,
  letter: "(d)", letterDx: 6, letterDy: 12.5,
  series: [{ data: dRed, color: RED, w: 1.6 }] });

// (e)
panel({ id: "e", domain: [294.5, 279.6], x0: 20, x1: 171, y0: 145, y1: 262, ticks: eTicks,
  labDy: 6.5, titleDy: 21.5, ylx: 11, name: "Convoluted spectra C1s", nameDy: 10,
  letter: "(e)", letterDx: 8, letterDy: 11.5, labelClip: 171,
  series: [
    { data: eGreen, color: GREEN, w: 1.8 },
    { data: eGray, color: GRAY, w: 1.4 },
    { data: eNavy, color: NAVY, w: 1.5 },
    { data: eRed, color: RED, w: 1.6 }
  ] });

// (f)
panel({ id: "f", domain: [887.9, 840.3], x0: 192, x1: 358, y0: 145, y1: 265, ticks: fTicks,
  labDy: 9.5, titleDy: 23, ylx: 186, name: "Convoluted spectra Ni2p", nameDy: 12.5,
  letter: "(f)", letterDx: 6, letterDy: 12.5,
  series: [
    { data: fGreenBg, color: GREEN, w: 1.8 },
    { data: fGreenSat1, color: GREEN, w: 1.8 },
    { data: fGreenSat2, color: GREEN, w: 1.8 },
    { data: fRed, color: RED, w: 1.5 },
    { data: fBlack, color: BLACK, w: 0.8, curve: d3.curveLinear, dots: true }
  ] });

// (g)
panel({ id: "g", domain: [740, 699], x0: 378, x1: 542, y0: 150, y1: 268, ticks: gTicks,
  labDy: 9.5, titleDy: 20.5, ylx: 370, name: "Convoluted spectra Fe2p", nameDy: 7.5,
  letter: "(g)", letterDx: 5, letterDy: 8, labelClip: 542,
  series: [
    { data: gGreenBg, color: GREEN, w: 1.8 },
    { data: gGreenPk, color: GREEN, w: 1.8 },
    { data: gRed, color: RED, w: 1.5 },
    { data: gBlack, color: BLACK, w: 0.8, curve: d3.curveLinear, dots: true }
  ] });

// (h)
panel({ id: "h", domain: [525, 540], x0: 557, x1: 723, y0: 150, y1: 266, ticks: hTicks,
  labDy: 8.5, titleDy: 22.5, ylx: 551, name: "Convoluted spectra O1s", nameDy: 7.5,
  letter: "(h)", letterDx: 4, letterDy: 8.5,
  series: [{ data: hRed, color: RED, w: 1.6 }] });

// (i)
panel({ id: "i", domain: [295, 279.8], x0: 198, x1: 355, y0: 300.5, y1: 408, ticks: iTicks,
  labDy: 11, titleDy: 21, ylx: 188, name: "Convoluted spectra C1s", nameDy: 7,
  letter: "(i)", letterDx: 8, letterDy: 7.5,
  series: [
    { data: iGreen, color: GREEN, w: 1.3 },
    { data: iPink, color: PINK, w: 1.4 },
    { data: iNavy, color: "#7a7fa8", w: 1.4 },
    { data: iRed, color: RED, w: 1.5 },
    { data: iEnv, color: DARK, w: 1.2 }
  ] });

// (j)
panel({ id: "j", domain: [95, 79.3], x0: 385, x1: 548, y0: 301, y1: 417, ticks: jTicks,
  labDy: 9.5, titleDy: 20.5, ylx: 374.5, name: "Convoluted spectra Au4f", nameDy: 7,
  letter: "(j)", letterDx: 8, letterDy: 7.5,
  series: [
    { data: jNavy, color: NAVY, w: 1.5 },
    { data: jGreen, color: GREEN, w: 1.8 },
    { data: jRed, color: RED, w: 1.6 },
    { data: jBlack, color: BLACK, w: 1.0, curve: d3.curveLinear }
  ] });
</script></body></html>
